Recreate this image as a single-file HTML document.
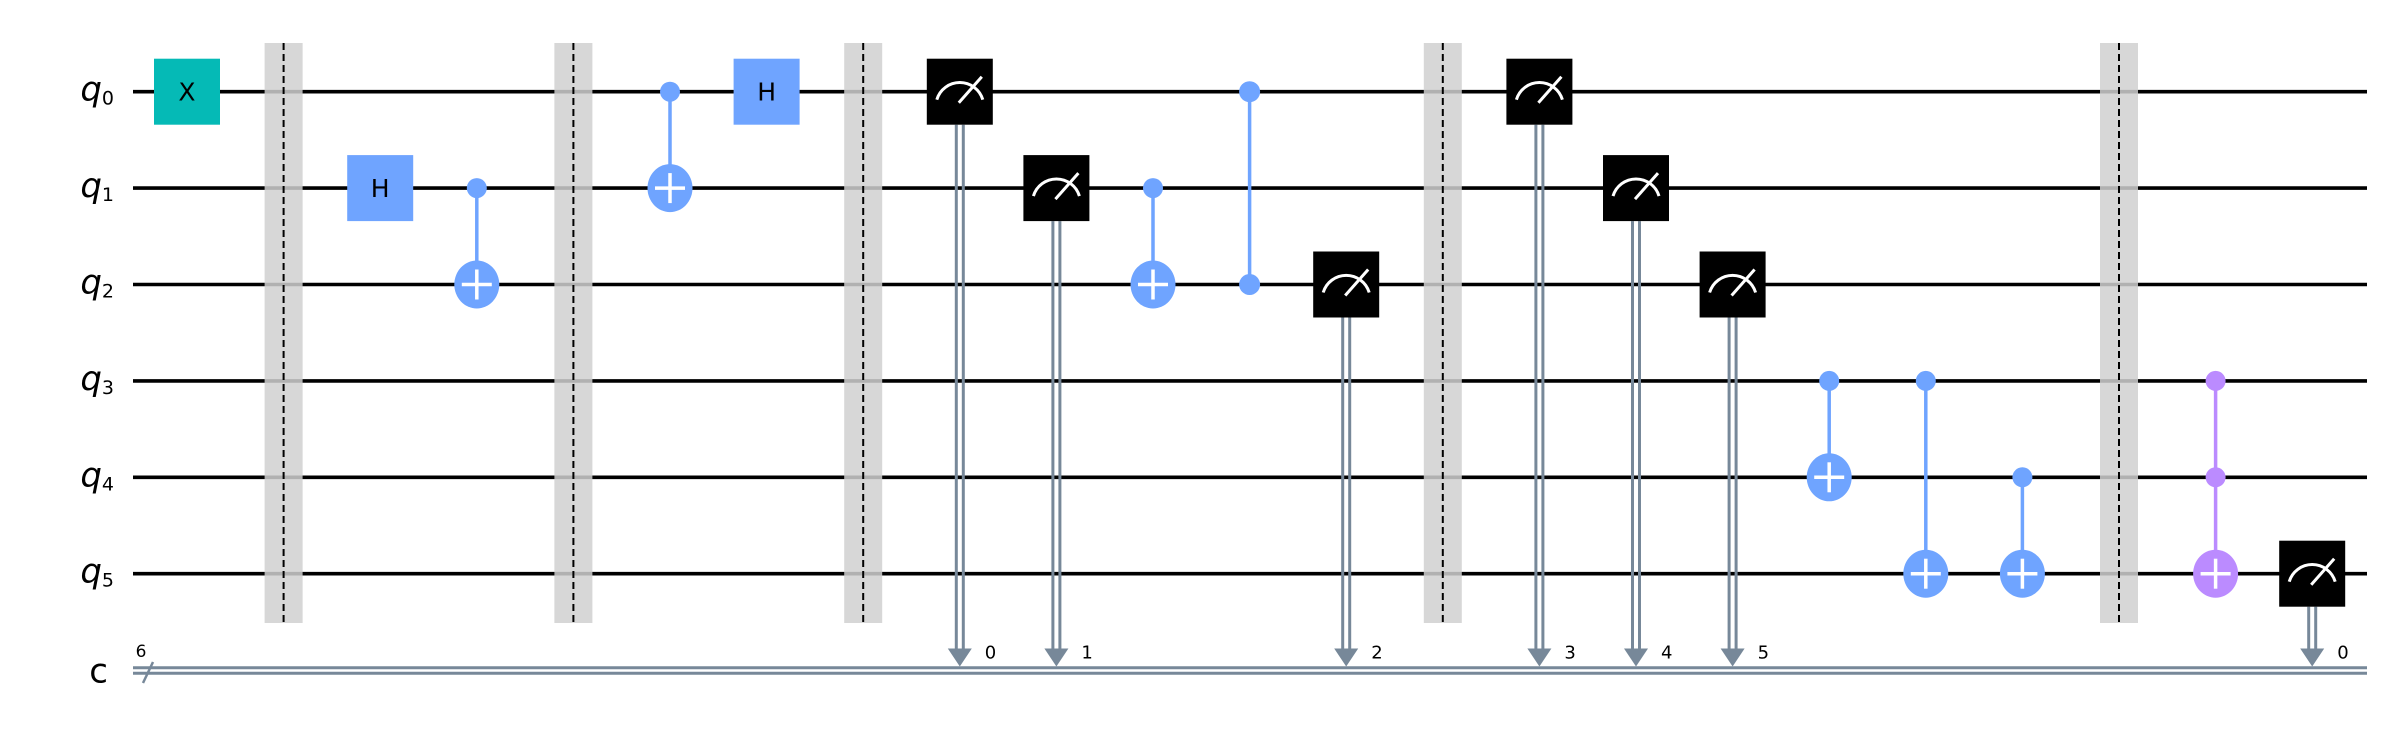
<!DOCTYPE html>
<html><head><meta charset="utf-8"><style>
html,body{margin:0;padding:0;background:#fff;}
svg{display:block;}
text{font-family:"DejaVu Sans","Liberation Sans",sans-serif;}
</style></head>
<body>
<svg id="circ" width="2390" height="744" viewBox="0 0 2390 744" xmlns="http://www.w3.org/2000/svg"></svg>
<script>
// circuit data
const qubits = [0,1,2,3,4,5];
const gates1 = [ {col:0,q:0,label:"X",color:"#05bab6"}, {col:2,q:1,label:"H",color:"#6fa4ff"}, {col:6,q:0,label:"H",color:"#6fa4ff"} ];
const barriers = [1,4,7,13,20];
const cxGates = [ {col:3,c:[1],t:2,color:"#6fa4ff"}, {col:5,c:[0],t:1,color:"#6fa4ff"}, {col:10,c:[1],t:2,color:"#6fa4ff"},
  {col:17,c:[3],t:4,color:"#6fa4ff"}, {col:18,c:[3],t:5,color:"#6fa4ff"}, {col:19,c:[4],t:5,color:"#6fa4ff"}, {col:21,c:[3,4],t:5,color:"#bb8bff"} ];
const czGates = [ {col:11,q:[0,2],color:"#6fa4ff"} ];
const measures = [ {col:8,q:0,bit:"0"},{col:9,q:1,bit:"1"},{col:12,q:2,bit:"2"},{col:14,q:0,bit:"3"},{col:15,q:1,bit:"4"},{col:16,q:2,bit:"5"},{col:22,q:5,bit:"0"} ];

const NS="http://www.w3.org/2000/svg";
const svg=document.getElementById('circ');
const X0=187, DX=96.6, Y0=91.7, DY=96.4, CY=670.5, WX0=133, WX1=2367, G=66;
const xc=c=>X0+DX*c, yq=q=>Y0+DY*q;
function el(tag,attrs,parent){const e=document.createElementNS(NS,tag);for(const k in attrs)e.setAttribute(k,attrs[k]);(parent||svg).appendChild(e);return e;}

// wires
qubits.forEach(q=>{
  const w=el('line',{x1:WX0,x2:WX1,y1:yq(q),y2:yq(q),stroke:'#000','stroke-width':3.6});
  
  
  const t=el('text',{x:114,y:yq(q)+9,'text-anchor':'end','font-size':34});
  
  
  t.innerHTML='<tspan font-style="italic">q</tspan><tspan font-size="19" dy="4">'+q+'</tspan>';
});
const cw=el('g',{});


el('line',{x1:WX0,x2:WX1,y1:CY-2.8,y2:CY-2.8,stroke:'#778899','stroke-width':3},cw);
el('line',{x1:WX0,x2:WX1,y1:CY+2.8,y2:CY+2.8,stroke:'#778899','stroke-width':3},cw);
el('line',{x1:143,y1:683,x2:153,y2:662,stroke:'#778899','stroke-width':2.5},cw);
const cl=el('text',{x:108,y:CY+12,'text-anchor':'end','font-size':34});
cl.textContent='c';


const six=el('text',{x:141,y:657,'text-anchor':'middle','font-size':17});
six.textContent='6';



// barriers
barriers.forEach(c=>{
  const g=el('g',{});
  
  
  el('rect',{x:xc(c)-19,y:43,width:38,height:580,fill:'#d0d0d0','fill-opacity':0.85},g);
  el('line',{x1:xc(c),x2:xc(c),y1:43,y2:623,stroke:'#000','stroke-width':2,'stroke-dasharray':'7,4'},g);
});

// single gates
gates1.forEach(gt=>{
  const g=el('g',{});
  
  
  el('rect',{x:xc(gt.col)-G/2,y:yq(gt.q)-G/2,width:G,height:G,fill:gt.color},g);
  const t=el('text',{x:xc(gt.col),y:yq(gt.q)+9,'text-anchor':'middle','font-size':25,fill:'#000'},g);
  t.textContent=gt.label;
});

// cx / ccx
cxGates.forEach(gt=>{
  const g=el('g',{});
  
  
  const x=xc(gt.col), qs=gt.c.concat([gt.t]);
  el('line',{x1:x,x2:x,y1:yq(Math.min(...qs)),y2:yq(Math.max(...qs)),stroke:gt.color,'stroke-width':3.5},g);
  gt.c.forEach(q=>el('circle',{cx:x,cy:yq(q),r:10,fill:gt.color},g));
  const y=yq(gt.t);
  el('ellipse',{cx:x,cy:y,rx:22.5,ry:24,fill:gt.color},g);
  el('line',{x1:x-15,x2:x+15,y1:y,y2:y,stroke:'#fff','stroke-width':3.5},g);
  el('line',{x1:x,x2:x,y1:y-15,y2:y+15,stroke:'#fff','stroke-width':3.5},g);
});
czGates.forEach(gt=>{
  const g=el('g',{});
  
  
  const x=xc(gt.col);
  el('line',{x1:x,x2:x,y1:yq(gt.q[0]),y2:yq(gt.q[1]),stroke:gt.color,'stroke-width':3.5},g);
  gt.q.forEach(q=>el('circle',{cx:x,cy:yq(q),r:10.5,fill:gt.color},g));
});

// measures
measures.forEach(m=>{
  const g=el('g',{});
  
  
  const x=xc(m.col), y=yq(m.q);
  el('line',{x1:x-3.5,x2:x-3.5,y1:y+G/2,y2:CY-20,stroke:'#778899','stroke-width':3},g);
  el('line',{x1:x+3.5,x2:x+3.5,y1:y+G/2,y2:CY-20,stroke:'#778899','stroke-width':3},g);
  el('polygon',{points:(x-12)+','+(CY-22)+' '+(x+12)+','+(CY-22)+' '+x+','+(CY-4),fill:'#778899'},g);
  el('rect',{x:x-G/2,y:y-G/2,width:G,height:G,fill:'#000'},g);
  el('path',{d:'M'+(x-23)+' '+(y+8)+' A24 24 0 0 1 '+(x+23)+' '+(y+8),fill:'none',stroke:'#fff','stroke-width':3},g);
  el('line',{x1:x-1,y1:y+11,x2:x+22,y2:y-15,stroke:'#fff','stroke-width':3},g);
  const t=el('text',{x:x+25,y:CY-12,'font-size':18},g);
  t.textContent=m.bit;
});
</script>
</body></html>
